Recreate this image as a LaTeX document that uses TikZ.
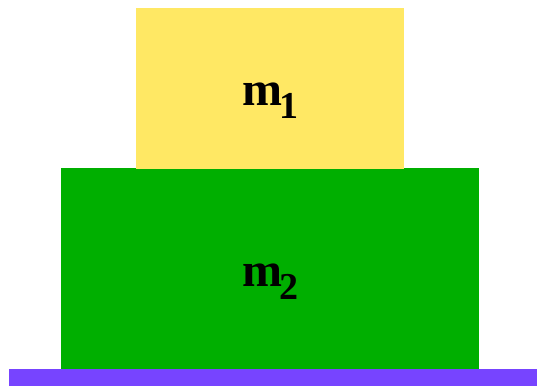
\documentclass[tikz,border=0pt]{standalone}
\usepackage{fontspec}
\setmainfont{Liberation Serif}
\usetikzlibrary{positioning}
\definecolor{mbTop}{HTML}{FFE864}
\definecolor{mbLow}{HTML}{00AF00}
\definecolor{mbFloor}{HTML}{7744FF}
\newcommand{\masslabel}[1]{\fontsize{48}{48}\selectfont\bfseries m\kern-2pt\raisebox{-13pt}{\fontsize{38}{38}\selectfont #1}}
\tikzset{
  block/.style={draw=none, inner sep=0pt, outer sep=0pt, anchor=south},
  floor/.style={block, fill=mbFloor, minimum width=528pt, minimum height=17pt},
  label/.style={inner sep=0pt, anchor=base, yshift=-17.5pt, xshift=0.5pt}
}
\begin{document}
\begin{tikzpicture}[x=1pt, y=1pt]
  \useasboundingbox (0,0) rectangle (537,386);
  \node[floor] (ground) at (273,0) {};
  \node[block, fill=mbLow, minimum width=418pt, minimum height=201pt] (lower) at (270,17) {};
  \node[block, fill=mbTop, minimum width=268pt, minimum height=161pt] (upper) at (270,217) {};
  \node[label] (m2) at (lower.center) {\masslabel{2}};
  \node[label] (m1) at (upper.center) {\masslabel{1}};
\end{tikzpicture}
\end{document}
